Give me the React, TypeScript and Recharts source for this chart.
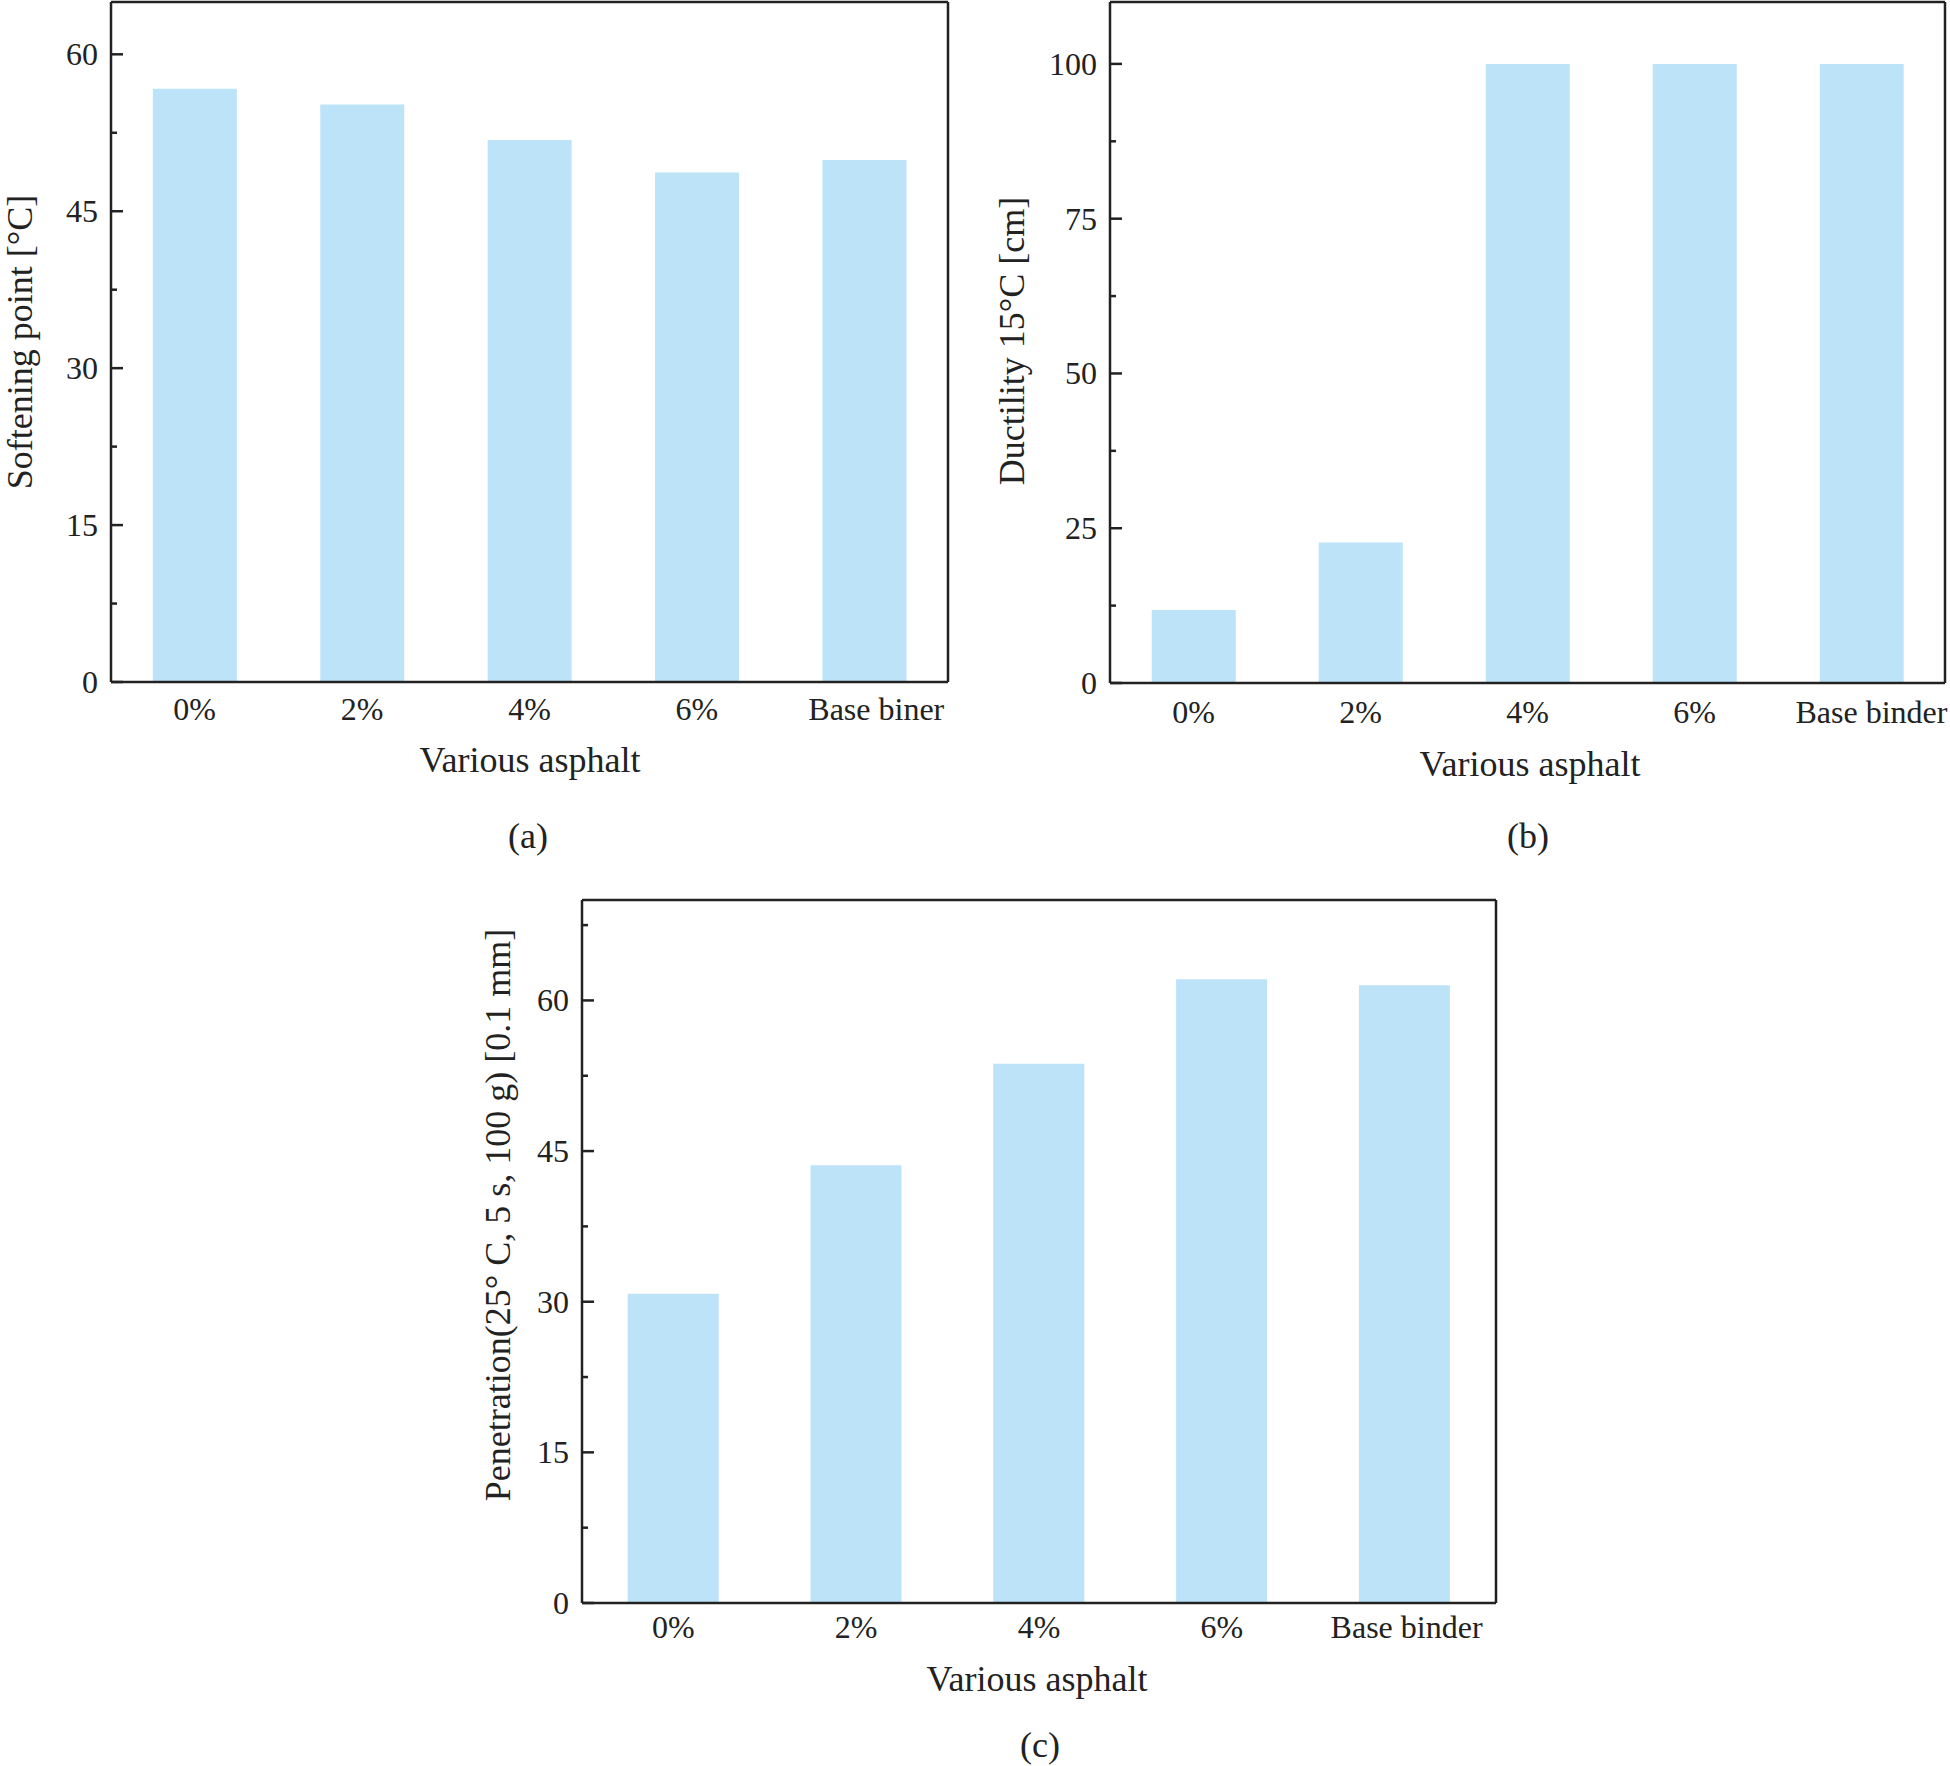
import React from 'react';
import { BarChart, Bar, XAxis, YAxis } from 'recharts';

const categoriesA = ['0%', '2%', '4%', '6%', 'Base biner'];
const categoriesB = ['0%', '2%', '4%', '6%', 'Base binder'];
const categoriesC = ['0%', '2%', '4%', '6%', 'Base binder'];

const softening = [56.7, 55.2, 51.8, 48.7, 49.9];
const ductility = [11.8, 22.7, 100, 100, 100];
const penetration = [30.8, 43.6, 53.7, 62.1, 61.5];

const softeningTicks = [0, 7.5, 15, 22.5, 30, 37.5, 45, 52.5, 60];
const ductilityTicks = [0, 12.5, 25, 37.5, 50, 62.5, 75, 87.5, 100];
const penetrationTicks = [0, 7.5, 15, 22.5, 30, 37.5, 45, 52.5, 60, 67.5];

const INK = '#222';
const BAR = '#bce3f8';
const FONT = '"Liberation Serif", "Times New Roman", serif';
const Y_W = 80;
const X_H = 60;

type PanelProps = {
  x: number;
  y: number;
  width: number;
  height: number;
  margin: { top: number; right: number; bottom: number; left: number };
  cats: string[];
  values: number[];
  max: number;
  ticks: number[];
  major: number;
  tickDy: number;
  lastDx: number;
};

function Panel(p: PanelProps) {
  const data = p.cats.map((c, i) => ({ cat: c, value: p.values[i] }));
  const axisX = p.margin.left + Y_W;
  const axisY = p.height - p.margin.bottom - X_H;
  // the frame axes take 1px each, so pull the margins in by that much
  const margin = { ...p.margin, top: p.margin.top - 1, right: p.margin.right - 1 };

  const YTick = (props: any) => {
    const v = props.payload.value;
    const isMajor = v % p.major === 0;
    return (
      <g>
        <line x1={axisX} x2={axisX + (isMajor ? 12 : 6)} y1={props.y} y2={props.y} stroke={INK} strokeWidth={2.5} />
        {isMajor && (
          <text x={axisX - 13} y={props.y} textAnchor="end" dominantBaseline="central"
            fontFamily={FONT} fontSize={32} fill={INK}>{v}</text>
        )}
      </g>
    );
  };

  const XTick = (props: any) => (
    <text x={props.x + (props.index === p.cats.length - 1 ? p.lastDx : 0)} y={axisY + p.tickDy}
      textAnchor="middle" dominantBaseline="central" fontFamily={FONT} fontSize={32} fill={INK}>
      {props.payload.value}
    </text>
  );

  return (
    <div style={{ position: 'absolute', left: p.x, top: p.y }}>
      <BarChart width={p.width} height={p.height} data={data} margin={margin} barCategoryGap="25%">
        <XAxis dataKey="cat" height={X_H} tickLine={false} tick={XTick} interval={0}
          axisLine={{ stroke: INK, strokeWidth: 2.5 }} />
        <XAxis xAxisId="top" dataKey="cat" orientation="top" height={1} tick={false} tickLine={false}
          axisLine={{ stroke: INK, strokeWidth: 2.5 }} />
        <YAxis width={Y_W} domain={[0, p.max]} ticks={p.ticks} interval={0} allowDataOverflow
          tickLine={false} tick={YTick} axisLine={{ stroke: INK, strokeWidth: 2.5 }} />
        <YAxis yAxisId="right" orientation="right" width={1} domain={[0, p.max]} tick={false}
          tickLine={false} axisLine={{ stroke: INK, strokeWidth: 2.5 }} />
        <Bar dataKey="value" fill={BAR} isAnimationActive={false} />
      </BarChart>
    </div>
  );
}

function Label({ x, y, text, rotate = false }: { x: number; y: number; text: string; rotate?: boolean }) {
  return (
    <div style={{
      position: 'absolute', left: x, top: y, whiteSpace: 'nowrap', lineHeight: 1,
      fontFamily: FONT, fontSize: 36, color: INK,
      transform: `translate(-50%, -50%)${rotate ? ' rotate(-90deg)' : ''}`,
    }}>{text}</div>
  );
}

export default function App() {
  return (
    <div style={{ position: 'absolute', left: 0, top: 0, width: 1950, height: 1766, background: '#fff', overflow: 'hidden' }}>
      <Panel x={0} y={0} width={975} height={880}
        margin={{ top: 2, right: 27, bottom: 138, left: 31 }}
        cats={categoriesA} values={softening} max={65} ticks={softeningTicks} major={15}
        tickDy={27} lastDx={12} />
      <Label x={20} y={342} text="Softening point [°C]" rotate />
      <Label x={530} y={760} text="Various asphalt" />
      <Label x={528} y={836} text="(a)" />

      <Panel x={975} y={0} width={975} height={880}
        margin={{ top: 2, right: 5, bottom: 137, left: 55 }}
        cats={categoriesB} values={ductility} max={110} ticks={ductilityTicks} major={25}
        tickDy={29} lastDx={10} />
      <Label x={1012} y={341} text="Ductility 15°C [cm]" rotate />
      <Label x={1530} y={764} text="Various asphalt" />
      <Label x={1528} y={836} text="(b)" />

      <Panel x={440} y={880} width={1100} height={886}
        margin={{ top: 20, right: 44, bottom: 103, left: 62 }}
        cats={categoriesC} values={penetration} max={70} ticks={penetrationTicks} major={15}
        tickDy={24} lastDx={2} />
      <Label x={498} y={1215} text="Penetration(25° C, 5 s, 100 g) [0.1 mm]" rotate />
      <Label x={1037} y={1679} text="Various asphalt" />
      <Label x={1040} y={1745} text="(c)" />
    </div>
  );
}
